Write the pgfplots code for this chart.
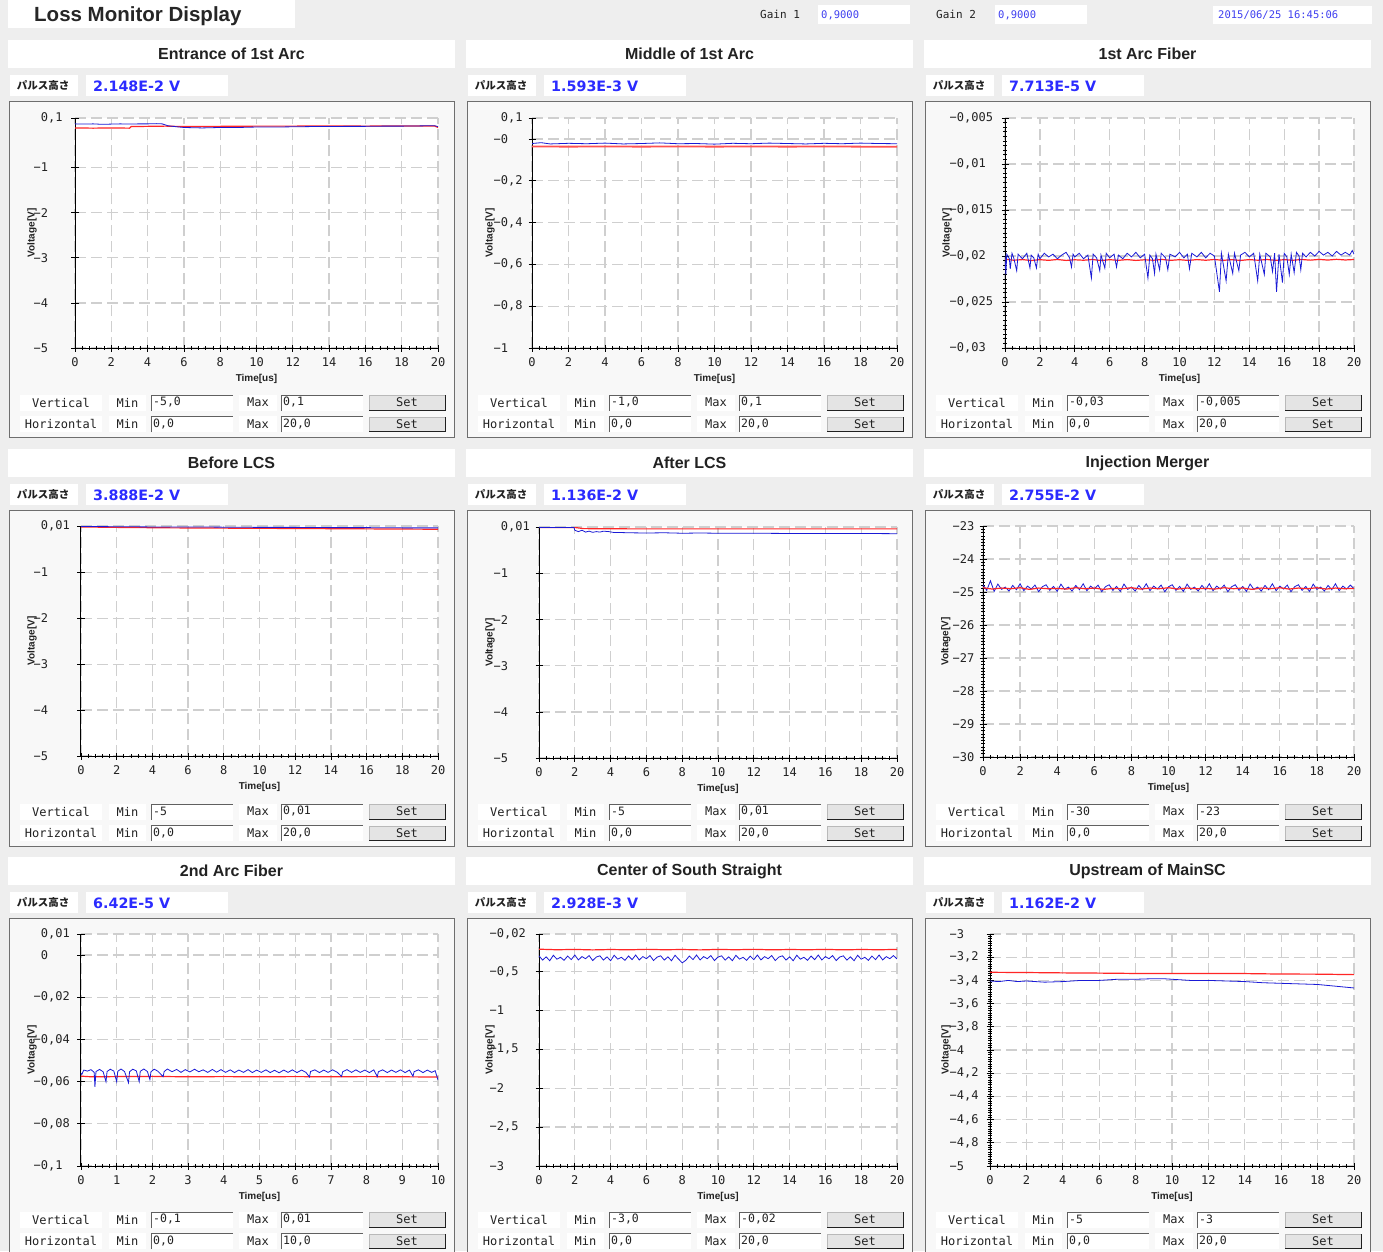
\documentclass[border=0pt]{standalone}
\usepackage{fontspec}
\usepackage{pgfplots}
\pgfplotsset{compat=1.18}
\setmainfont{Liberation Sans}
\newfontfamily\dejavu{DejaVu Sans}
\newfontfamily\mono{DejaVu Sans Mono}
\newfontfamily\jp{Noto Sans CJK JP}

\definecolor{winbg}{HTML}{EEEEEE}
\definecolor{framebg}{HTML}{F8F8F8}
\definecolor{framedge}{HTML}{6E6E6E}
\definecolor{txt}{HTML}{222222}
\definecolor{valblue}{HTML}{2B2BFF}
\definecolor{smallblue}{HTML}{4040F0}
\definecolor{trblue}{HTML}{1A1AD6}
\definecolor{trred}{HTML}{FF2626}
\definecolor{gridc}{HTML}{CFCFCF}
\definecolor{btn}{HTML}{E4E4E4}

\newcommand\fs[1]{\fontsize{#1}{#1}\selectfont}

% one row of the range controls: y, caption, min entry, max entry
\newcommand\ctrlrow[4]{%
  \fill[white] (20,{#1-8}) rectangle (102,{#1+8});
  \node[font=\mono\fs{12}, text=txt] at (61,#1) {#2};
  \fill[white] (109,{#1-8}) rectangle (146,{#1+8});
  \node[font=\mono\fs{12}, text=txt] at (127.5,#1) {Min};
  \fill[white] (151,{#1-8}) rectangle (233,{#1+8});
  \draw[gray!75!black, line width=0.8pt] (151.5,{#1+8}) -- (151.5,{#1-7.6}) -- (233,{#1-7.6});
  \node[anchor=west, inner sep=0pt, font=\mono\fs{11.5}, text=txt] at (153,#1) {#3};
  \fill[white] (239,{#1-8}) rectangle (277,{#1+8});
  \node[font=\mono\fs{12}, text=txt] at (258,#1) {Max};
  \fill[white] (281,{#1-8}) rectangle (363,{#1+8});
  \draw[gray!75!black, line width=0.8pt] (281.5,{#1+8}) -- (281.5,{#1-7.6}) -- (363,{#1-7.6});
  \node[anchor=west, inner sep=0pt, font=\mono\fs{11.5}, text=txt] at (283,#1) {#4};
  \fill[btn] (369,{#1-7.5}) rectangle (446,{#1+7.5});
  \draw[gray!55, line width=0.8pt] (369.4,{#1+7.5}) -- (369.4,{#1-7.1}) -- (446,{#1-7.1});
  \draw[gray!25!black, line width=1pt] (369,{#1+7.5}) -- (445.5,{#1+7.5}) -- (445.5,{#1-7.5});
  \node[font=\mono\fs{12}, text=txt] at (407,#1) {Set};
}

% the widgets around one plot: dx, dy, title, pulse height, vmin, vmax, hmin, hmax
\newcommand\panelchrome[8]{%
  \begin{scope}[shift={(#1,#2)}]
    \fill[white] (8,40) rectangle (455,68);
    \node[font=\bfseries\fs{16}, text=txt] at (231.5,54) {#3};
    \fill[white] (10,75) rectangle (78,96);
    \node[font=\jp\bfseries\fs{10.5}, text=txt] at (43,85) {パルス高さ};
    \fill[white] (86,75) rectangle (228,96);
    \node[anchor=west, inner sep=0pt, text=valblue, font=\dejavu\bfseries\fs{14.3}] at (93,86) {#4};
    \filldraw[fill=framebg, draw=framedge, line width=1.6pt] (9.5,101.5) rectangle (454.5,437.5);
    \ctrlrow{402.5}{Vertical}{#5}{#6}
    \ctrlrow{424}{Horizontal}{#7}{#8}
  \end{scope}}

\pgfplotsset{
  monitor/.style={
    scale only axis, enlargelimits=false,
    scaled y ticks=false, scaled x ticks=false,
    axis lines=left,
    axis line style={-, line width=1pt, black},
    axis background/.style={fill=white},
    grid=major,
    major grid style={gridc, line width=1.3pt, dash pattern=on 11pt off 5pt},
    tick align=center,
    major tick length=7pt, minor tick length=3.5pt,
    tick style={black, line width=0.8pt},
    minor x tick num=4, minor y tick num=9,
    xmin=0, xmax=20, xtick={0,2,...,20},
    /pgf/number format/assume math mode=true,
    xticklabel style={font=\mono\fs{12}, text=txt, inner sep=0pt, yshift=-6pt},
    yticklabel style={font=\mono\fs{12}, text=txt, anchor=west, inner sep=0pt},
    xlabel={Time[us]}, ylabel={Voltage[V]},
    every axis label/.append style={font=\bfseries\fs{10}, text=txt},
    xlabel style={at={(axis description cs:0.5,0)}, anchor=center, yshift=-31pt},
    ylabel style={anchor=center},
  },
  blueline/.style={trblue, line width=0.8pt, mark=none},
  redline/.style={trred, line width=1.2pt, mark=none},
}

\begin{document}
\begin{tikzpicture}[x=1pt,y=-1pt]
\useasboundingbox (0,0) rectangle (1383,1251);
\clip (0,0) rectangle (1383,1251);
\fill[winbg] (0,0) rectangle (1383,1251);

% header
\fill[white] (8,0) rectangle (295,28);
\node[anchor=west, inner sep=0pt, font=\bfseries\fs{20.5}, text=black!85] at (34,16) {Loss Monitor Display};
\node[anchor=west, inner sep=0pt, font=\mono\fs{11}, text=txt] at (760,14) {Gain 1};
\fill[white] (818,5) rectangle (910,24);
\node[anchor=west, inner sep=0pt, font=\mono\fs{10.5}, text=smallblue] at (821,15) {0,9000};
\node[anchor=west, inner sep=0pt, font=\mono\fs{11}, text=txt] at (936,14) {Gain 2};
\fill[white] (995,5) rectangle (1087,24);
\node[anchor=west, inner sep=0pt, font=\mono\fs{10.5}, text=smallblue] at (998,15) {0,9000};
\fill[white] (1213,6) rectangle (1372,24);
\node[anchor=west, inner sep=0pt, font=\mono\fs{10.5}, text=smallblue] at (1218,15) {2015/06/25 16:45:06};

\panelchrome{0}{0}{Entrance of 1st Arc}{2.148E-2 V}{-5,0}{0,1}{0,0}{20,0}
\panelchrome{458}{0}{Middle of 1st Arc}{1.593E-3 V}{-1,0}{0,1}{0,0}{20,0}
\panelchrome{916}{0}{1st Arc Fiber}{7.713E-5 V}{-0,03}{-0,005}{0,0}{20,0}
\panelchrome{0}{409}{Before LCS}{3.888E-2 V}{-5}{0,01}{0,0}{20,0}
\panelchrome{458}{409}{After LCS}{1.136E-2 V}{-5}{0,01}{0,0}{20,0}
\panelchrome{916}{409}{Injection Merger}{2.755E-2 V}{-30}{-23}{0,0}{20,0}
\panelchrome{0}{817}{2nd Arc Fiber}{6.42E-5 V}{-0,1}{0,01}{0,0}{10,0}
\panelchrome{458}{817}{Center of South Straight}{2.928E-3 V}{-3,0}{-0,02}{0,0}{20,0}
\panelchrome{916}{817}{Upstream of MainSC}{1.162E-2 V}{-5}{-3}{0,0}{20,0}

% ---------- Entrance of 1st Arc
\begin{axis}[monitor, at={(75pt,-348pt)}, anchor=south west, width=363pt, height=230pt,
  ymin=-5, ymax=0.1, ytick={0.1,-1,-2,-3,-4,-5},
  yticklabels={{\phantom{−}0,1},{−1},{−2},{−3},{−4},{−5}},
  yticklabel style={xshift=-38pt},
  ylabel style={at={(axis description cs:-0.118,0.5)}}]
\addplot[redline] coordinates {(0,-0.12) (1,-0.125) (2,-0.12) (3,-0.125) (3.1,-0.09) (4,-0.085) (5,-0.08) (6,-0.09) (8,-0.085) (10,-0.08) (12,-0.08) (14,-0.075) (16,-0.08) (18,-0.075) (19.8,-0.075) (20,-0.11)};
\addplot[blueline] coordinates {(0,-0.03) (0.5,-0.035) (1,-0.03) (1.5,-0.04) (2,-0.035) (2.5,-0.03) (3,-0.035) (3.5,-0.03) (4,-0.03) (4.5,-0.025) (4.8,-0.03) (5.1,-0.07) (5.5,-0.09) (6,-0.11) (6.5,-0.115) (7,-0.12) (7.5,-0.115) (8,-0.11) (9,-0.11) (10,-0.10) (11,-0.10) (12,-0.095) (13,-0.09) (14,-0.09) (15,-0.085) (16,-0.085) (17,-0.08) (18,-0.08) (19,-0.075) (19.8,-0.07) (20,-0.09)};
\end{axis}

% ---------- Middle of 1st Arc
\begin{axis}[monitor, at={(532pt,-348pt)}, anchor=south west, width=365pt, height=230pt,
  ymin=-1, ymax=0.1, ytick={0.1,0,-0.2,-0.4,-0.6,-0.8,-1},
  yticklabels={{\phantom{−}0,1},{−0},{−0,2},{−0,4},{−0,6},{−0,8},{−1}},
  yticklabel style={xshift=-35pt},
  ylabel style={at={(axis description cs:-0.115,0.5)}}]
\addplot[redline, line width=1.8pt, trred!80] coordinates {(0,-0.036) (2,-0.037) (4,-0.036) (6,-0.037) (8,-0.036) (10,-0.037) (12,-0.036) (14,-0.037) (16,-0.036) (18,-0.037) (20,-0.037)};
\addplot[blueline] coordinates {(0,-0.022) (0.5,-0.018) (1,-0.024) (2,-0.021) (3,-0.023) (4,-0.020) (5,-0.024) (6,-0.022) (7,-0.019) (8,-0.023) (9,-0.022) (10,-0.025) (11,-0.021) (12,-0.023) (13,-0.020) (14,-0.022) (15,-0.024) (16,-0.021) (17,-0.023) (18,-0.020) (19,-0.022) (20,-0.023)};
\end{axis}

% ---------- 1st Arc Fiber
\begin{axis}[monitor, at={(1005pt,-348pt)}, anchor=south west, width=349pt, height=230pt,
  ymin=-0.03, ymax=-0.005, ytick={-0.005,-0.01,-0.015,-0.02,-0.025,-0.03},
  yticklabels={{−0,005},{−0,01},{−0,015},{−0,02},{−0,025},{−0,03}},
  yticklabel style={xshift=-52pt},
  ylabel style={at={(axis description cs:-0.166,0.5)}}]
\addplot[redline] coordinates {(0,-0.02035) (0.5,-0.02046) (1,-0.02039) (1.5,-0.02049) (2,-0.02040) (2.5,-0.02047) (3,-0.02038) (3.5,-0.02048) (4,-0.02041) (4.5,-0.02046) (5,-0.02038) (5.5,-0.02049) (6,-0.02040) (6.5,-0.02047) (7,-0.02039) (7.5,-0.02048) (8,-0.02041) (8.5,-0.02046) (9,-0.02038) (9.5,-0.02047) (10,-0.02040) (10.5,-0.02048) (11,-0.02039) (11.5,-0.02046) (12,-0.02038) (12.5,-0.02047) (13,-0.02040) (13.5,-0.02048) (14,-0.02039) (14.5,-0.02046) (15,-0.02038) (15.5,-0.02047) (16,-0.02040) (16.5,-0.02046) (17,-0.02038) (17.5,-0.02045) (18,-0.02037) (18.5,-0.02044) (19,-0.02036) (19.5,-0.02043) (20,-0.02038)};
\addplot[blueline] coordinates {(0,-0.0199) (0.05,-0.0220) (0.1,-0.0198) (0.25,-0.0203) (0.3,-0.0214) (0.4,-0.0197) (0.5,-0.0202) (0.67,-0.0216) (0.75,-0.0198) (1,-0.0203) (1.25,-0.0197) (1.43,-0.0213) (1.5,-0.0199) (1.65,-0.0202) (1.8,-0.0213) (1.9,-0.0198) (2,-0.0203) (2.25,-0.0197) (2.5,-0.0201) (2.75,-0.0198) (3,-0.0203) (3.25,-0.0199) (3.5,-0.0196) (3.7,-0.0202) (3.81,-0.0212) (3.9,-0.0198) (4,-0.0201) (4.25,-0.0197) (4.5,-0.0203) (4.75,-0.0199) (4.95,-0.0224) (5.05,-0.0198) (5.25,-0.0202) (5.43,-0.0216) (5.5,-0.0199) (5.72,-0.0213) (5.8,-0.0197) (6,-0.0202) (6.25,-0.0198) (6.39,-0.0212) (6.5,-0.0199) (6.75,-0.0203) (7,-0.0197) (7.25,-0.0201) (7.5,-0.0196) (7.75,-0.0202) (8,-0.0198) (8.19,-0.0224) (8.3,-0.0199) (8.45,-0.0203) (8.57,-0.0219) (8.65,-0.0198) (8.86,-0.0215) (8.95,-0.0197) (9.2,-0.0202) (9.33,-0.0215) (9.45,-0.0198) (9.75,-0.0201) (10,-0.0196) (10.25,-0.0202) (10.45,-0.0198) (10.57,-0.0214) (10.7,-0.0197) (11,-0.0201) (11.25,-0.0196) (11.5,-0.0202) (11.75,-0.0197) (12,-0.0200) (12.29,-0.0239) (12.4,-0.0197) (12.67,-0.0227) (12.8,-0.0198) (13.05,-0.0219) (13.15,-0.0197) (13.4,-0.0216) (13.5,-0.0199) (13.75,-0.0196) (14,-0.0201) (14.25,-0.0197) (14.48,-0.0227) (14.6,-0.0198) (14.86,-0.0220) (14.95,-0.0197) (15.2,-0.0201) (15.33,-0.0217) (15.45,-0.0197) (15.56,-0.0239) (15.7,-0.0198) (15.9,-0.0229) (16,-0.0197) (16.15,-0.0201) (16.29,-0.0220) (16.4,-0.0198) (16.57,-0.0218) (16.7,-0.0196) (16.85,-0.0200) (16.95,-0.0215) (17.05,-0.0197) (17.25,-0.0201) (17.5,-0.0196) (17.75,-0.0200) (18,-0.0195) (18.25,-0.0199) (18.5,-0.0196) (18.75,-0.0200) (19,-0.0195) (19.25,-0.0199) (19.5,-0.0196) (19.75,-0.0199) (19.9,-0.0194) (20,-0.0198)};
\end{axis}

% ---------- Before LCS
\begin{axis}[monitor, at={(81pt,-756pt)}, anchor=south west, width=357pt, height=230pt,
  ymin=-5, ymax=0.01, ytick={0.01,-1,-2,-3,-4,-5},
  yticklabels={{\phantom{−}0,01},{−1},{−2},{−3},{−4},{−5}},
  yticklabel style={xshift=-44pt},
  ylabel style={at={(axis description cs:-0.137,0.5)}}]
\addplot[redline] coordinates {(0,-0.01) (2,-0.02) (5,-0.03) (10,-0.04) (15,-0.05) (20,-0.06)};
\addplot[blueline] coordinates {(0,0.0) (2,-0.005) (4,-0.01) (6,-0.01) (8,-0.015) (10,-0.02) (12,-0.02) (14,-0.025) (16,-0.025) (18,-0.03) (20,-0.03)};
\end{axis}

% ---------- After LCS
\begin{axis}[monitor, at={(539pt,-758pt)}, anchor=south west, width=358pt, height=231pt,
  ymin=-5, ymax=0.01, ytick={0.01,-1,-2,-3,-4,-5},
  yticklabels={{\phantom{−}0,01},{−1},{−2},{−3},{−4},{−5}},
  yticklabel style={xshift=-42pt},
  ylabel style={at={(axis description cs:-0.137,0.5)}}]
\addplot[redline] coordinates {(0,0.0) (2,0.0) (2.5,-0.025) (5,-0.03) (10,-0.03) (15,-0.03) (20,-0.03)};
\addplot[blueline] coordinates {(0,0.002) (1.95,0.002) (2.0,-0.06) (2.2,-0.09) (2.4,-0.06) (2.6,-0.10) (2.8,-0.08) (3.0,-0.105) (3.2,-0.09) (3.4,-0.10) (3.6,-0.08) (3.9,-0.09) (4.2,-0.11) (4.6,-0.11) (5,-0.115) (6,-0.12) (7,-0.115) (8,-0.125) (9,-0.12) (10,-0.125) (12,-0.125) (14,-0.13) (16,-0.13) (18,-0.13) (20,-0.135)};
\end{axis}

% ---------- Injection Merger
\begin{axis}[monitor, at={(983pt,-757pt)}, anchor=south west, width=371pt, height=231pt,
  ymin=-30, ymax=-23, ytick={-23,-24,-25,-26,-27,-28,-29,-30},
  yticklabels={{−23},{−24},{−25},{−26},{−27},{−28},{−29},{−30}},
  yticklabel style={xshift=-27pt},
  ylabel style={at={(axis description cs:-0.100,0.5)}}]
\addplot[blueline] coordinates {(0,-24.78) (0.2,-24.95) (0.4,-24.66) (0.6,-24.98) (0.8,-24.76) (1.0,-24.92) (1.2,-24.85) (1.4,-24.97) (1.6,-24.80) (1.8,-24.93) (2.0,-24.75) (2.2,-24.96) (2.4,-24.82) (2.6,-24.91) (2.8,-24.79) (3.0,-24.99) (3.2,-24.84) (3.4,-24.78) (3.6,-24.95) (3.8,-24.83) (4.0,-24.98) (4.2,-24.76) (4.4,-24.92) (4.6,-24.85) (4.8,-24.97) (5.0,-24.80) (5.2,-24.93) (5.4,-24.75) (5.6,-24.96) (5.8,-24.82) (6.0,-24.91) (6.2,-24.79) (6.4,-24.99) (6.6,-24.84) (6.8,-24.78) (7.0,-24.95) (7.2,-24.83) (7.4,-24.98) (7.6,-24.76) (7.8,-24.92) (8.0,-24.85) (8.2,-24.97) (8.4,-24.80) (8.6,-24.93) (8.8,-24.75) (9.0,-24.96) (9.2,-24.82) (9.4,-24.91) (9.6,-24.79) (9.8,-24.99) (10.0,-24.84) (10.2,-24.78) (10.4,-24.95) (10.6,-24.83) (10.8,-24.98) (11.0,-24.76) (11.2,-24.92) (11.4,-24.85) (11.6,-24.97) (11.8,-24.80) (12.0,-24.93) (12.2,-24.75) (12.4,-24.96) (12.6,-24.82) (12.8,-24.91) (13.0,-24.79) (13.2,-24.99) (13.4,-24.84) (13.6,-24.78) (13.8,-24.95) (14.0,-24.83) (14.2,-24.98) (14.4,-24.76) (14.6,-24.92) (14.8,-24.85) (15.0,-24.97) (15.2,-24.80) (15.4,-24.93) (15.6,-24.75) (15.8,-24.96) (16.0,-24.82) (16.2,-24.91) (16.4,-24.79) (16.6,-24.99) (16.8,-24.84) (17.0,-24.78) (17.2,-24.95) (17.4,-24.83) (17.6,-24.98) (17.8,-24.76) (18.0,-24.92) (18.2,-24.85) (18.4,-24.97) (18.6,-24.80) (18.8,-24.93) (19.0,-24.75) (19.2,-24.96) (19.4,-24.82) (19.6,-24.91) (19.8,-24.79) (20.0,-24.90)};
\addplot[redline] coordinates {(0,-24.87) (0.5,-24.91) (1,-24.88) (1.5,-24.90) (2,-24.87) (2.5,-24.92) (3,-24.88) (3.5,-24.90) (4,-24.89) (4.5,-24.91) (5,-24.87) (5.5,-24.90) (6,-24.88) (6.5,-24.92) (7,-24.89) (7.5,-24.90) (8,-24.87) (8.5,-24.91) (9,-24.88) (9.5,-24.90) (10,-24.87) (10.5,-24.91) (11,-24.88) (11.5,-24.90) (12,-24.89) (12.5,-24.91) (13,-24.87) (13.5,-24.90) (14,-24.88) (14.5,-24.92) (15,-24.88) (15.5,-24.90) (16,-24.87) (16.5,-24.91) (17,-24.88) (17.5,-24.90) (18,-24.87) (18.5,-24.91) (19,-24.88) (19.5,-24.90) (20,-24.89)};
\end{axis}

% ---------- 2nd Arc Fiber
\begin{axis}[monitor, at={(81pt,-1166pt)}, anchor=south west, width=357pt, height=232pt,
  xmax=10, xtick={0,1,...,10},
  ymin=-0.1, ymax=0.01, ytick={0.01,0,-0.02,-0.04,-0.06,-0.08,-0.1},
  yticklabels={{\phantom{−}0,01},{\phantom{−}0},{−0,02},{−0,04},{−0,06},{−0,08},{−0,1}},
  yticklabel style={xshift=-44pt},
  ylabel style={at={(axis description cs:-0.137,0.5)}}]
\addplot[redline] coordinates {(0,-0.0574) (0.3,-0.0577) (1,-0.0576) (2,-0.0575) (3,-0.0577) (4,-0.0576) (5,-0.0577) (6,-0.0576) (7,-0.0577) (8,-0.0576) (9,-0.0577) (10,-0.0578)};
\addplot[blueline] coordinates {(0,-0.0560) (0.02,-0.0566) (0.08,-0.0545) (0.18,-0.0550) (0.28,-0.0543) (0.37,-0.0556) (0.39,-0.0625) (0.42,-0.0552) (0.52,-0.0542) (0.62,-0.0553) (0.70,-0.0600) (0.73,-0.0552) (0.82,-0.0541) (0.92,-0.0550) (1.00,-0.0600) (1.03,-0.0551) (1.12,-0.0540) (1.22,-0.0552) (1.33,-0.0605) (1.36,-0.0553) (1.45,-0.0541) (1.55,-0.0549) (1.63,-0.0600) (1.66,-0.0551) (1.76,-0.0540) (1.86,-0.0552) (1.93,-0.0590) (1.96,-0.0553) (2.05,-0.0541) (2.15,-0.0550) (2.30,-0.0576) (2.33,-0.0552) (2.42,-0.0540) (2.55,-0.0553) (2.68,-0.0542) (2.80,-0.0556) (2.92,-0.0543) (3.05,-0.0554) (3.18,-0.0541) (3.30,-0.0553) (3.42,-0.0544) (3.55,-0.0556) (3.68,-0.0542) (3.80,-0.0555) (3.92,-0.0543) (4.05,-0.0556) (4.18,-0.0544) (4.30,-0.0557) (4.42,-0.0545) (4.55,-0.0556) (4.68,-0.0543) (4.80,-0.0557) (4.92,-0.0545) (5.05,-0.0556) (5.18,-0.0544) (5.30,-0.0557) (5.42,-0.0546) (5.55,-0.0558) (5.68,-0.0545) (5.80,-0.0556) (5.92,-0.0544) (6.05,-0.0557) (6.18,-0.0545) (6.30,-0.0556) (6.40,-0.0578) (6.43,-0.0552) (6.55,-0.0544) (6.68,-0.0557) (6.80,-0.0545) (6.92,-0.0556) (7.05,-0.0544) (7.18,-0.0556) (7.30,-0.0575) (7.33,-0.0553) (7.45,-0.0543) (7.58,-0.0556) (7.70,-0.0544) (7.82,-0.0556) (7.95,-0.0545) (8.08,-0.0557) (8.20,-0.0544) (8.30,-0.0576) (8.33,-0.0553) (8.45,-0.0544) (8.58,-0.0557) (8.70,-0.0545) (8.82,-0.0556) (8.95,-0.0544) (9.08,-0.0557) (9.20,-0.0545) (9.30,-0.0575) (9.33,-0.0553) (9.45,-0.0544) (9.58,-0.0557) (9.70,-0.0545) (9.82,-0.0556) (9.92,-0.0548) (10.0,-0.0592)};
\end{axis}

% ---------- Center of South Straight
\begin{axis}[monitor, at={(539pt,-1166pt)}, anchor=south west, width=358pt, height=232pt,
  ymin=-3, ymax=-0.02, ytick={-0.02,-0.5,-1,-1.5,-2,-2.5,-3},
  yticklabels={{−0,02},{−0,5},{−1},{−1,5},{−2},{−2,5},{−3}},
  yticklabel style={xshift=-46pt},
  ylabel style={at={(axis description cs:-0.137,0.5)}}]
\addplot[redline] coordinates {(0,-0.215) (1,-0.222) (2,-0.218) (3,-0.224) (4,-0.219) (5,-0.223) (6,-0.217) (7,-0.222) (8,-0.219) (9,-0.224) (10,-0.218) (11,-0.222) (12,-0.217) (13,-0.223) (14,-0.219) (15,-0.222) (16,-0.218) (17,-0.223) (18,-0.219) (19,-0.222) (20,-0.218)};
\addplot[blueline] coordinates {(0,-0.300) (0.2,-0.355) (0.4,-0.313) (0.6,-0.363) (0.8,-0.293) (1.0,-0.343) (1.2,-0.319) (1.4,-0.358) (1.6,-0.303) (1.8,-0.349) (2.0,-0.290) (2.2,-0.353) (2.4,-0.310) (2.6,-0.337) (2.8,-0.297) (3.0,-0.361) (3.2,-0.316) (3.4,-0.300) (3.6,-0.355) (3.8,-0.313) (4.0,-0.363) (4.2,-0.293) (4.4,-0.343) (4.6,-0.319) (4.8,-0.358) (5.0,-0.303) (5.2,-0.349) (5.4,-0.290) (5.6,-0.353) (5.8,-0.310) (6.0,-0.337) (6.2,-0.297) (6.4,-0.361) (6.6,-0.316) (6.8,-0.300) (7.0,-0.355) (7.2,-0.313) (7.4,-0.363) (7.6,-0.293) (7.8,-0.343) (8.0,-0.390) (8.2,-0.358) (8.4,-0.303) (8.6,-0.349) (8.8,-0.290) (9.0,-0.353) (9.2,-0.310) (9.4,-0.337) (9.6,-0.297) (9.8,-0.361) (10.0,-0.316) (10.2,-0.300) (10.4,-0.355) (10.6,-0.313) (10.8,-0.363) (11.0,-0.293) (11.2,-0.343) (11.4,-0.319) (11.6,-0.358) (11.8,-0.303) (12.0,-0.349) (12.2,-0.290) (12.4,-0.353) (12.6,-0.310) (12.8,-0.337) (13.0,-0.297) (13.2,-0.361) (13.4,-0.316) (13.6,-0.300) (13.8,-0.355) (14.0,-0.313) (14.2,-0.363) (14.4,-0.293) (14.6,-0.343) (14.8,-0.319) (15.0,-0.358) (15.2,-0.303) (15.4,-0.349) (15.6,-0.290) (15.8,-0.353) (16.0,-0.310) (16.2,-0.337) (16.4,-0.297) (16.6,-0.361) (16.8,-0.316) (17.0,-0.300) (17.2,-0.355) (17.4,-0.313) (17.6,-0.363) (17.8,-0.293) (18.0,-0.343) (18.2,-0.319) (18.4,-0.358) (18.6,-0.303) (18.8,-0.349) (19.0,-0.290) (19.2,-0.353) (19.4,-0.310) (19.6,-0.337) (19.8,-0.297) (20.0,-0.340)};
\end{axis}

% ---------- Upstream of MainSC
\begin{axis}[monitor, at={(990pt,-1166pt)}, anchor=south west, width=364pt, height=232pt,
  ymin=-5, ymax=-3, ytick={-3,-3.2,-3.4,-3.6,-3.8,-4,-4.2,-4.4,-4.6,-4.8,-5},
  yticklabels={{−3},{−3,2},{−3,4},{−3,6},{−3,8},{−4},{−4,2},{−4,4},{−4,6},{−4,8},{−5}},
  yticklabel style={xshift=-37pt},
  ylabel style={at={(axis description cs:-0.121,0.5)}}]
\addplot[redline] coordinates {(0,-3.330) (2,-3.332) (4,-3.335) (6,-3.337) (8,-3.340) (10,-3.340) (12,-3.340) (14,-3.341) (16,-3.345) (18,-3.346) (20,-3.350)};
\addplot[blueline] coordinates {(0,-3.405) (0.5,-3.410) (1,-3.400) (1.5,-3.410) (2,-3.405) (3,-3.415) (4,-3.410) (5,-3.400) (6,-3.400) (7,-3.390) (8,-3.390) (9,-3.385) (9.5,-3.385) (10,-3.390) (11,-3.400) (12,-3.400) (13,-3.405) (14,-3.410) (15,-3.420) (16,-3.425) (17,-3.430) (18,-3.435) (19,-3.450) (20,-3.465)};
\end{axis}
\end{tikzpicture}
\end{document}
